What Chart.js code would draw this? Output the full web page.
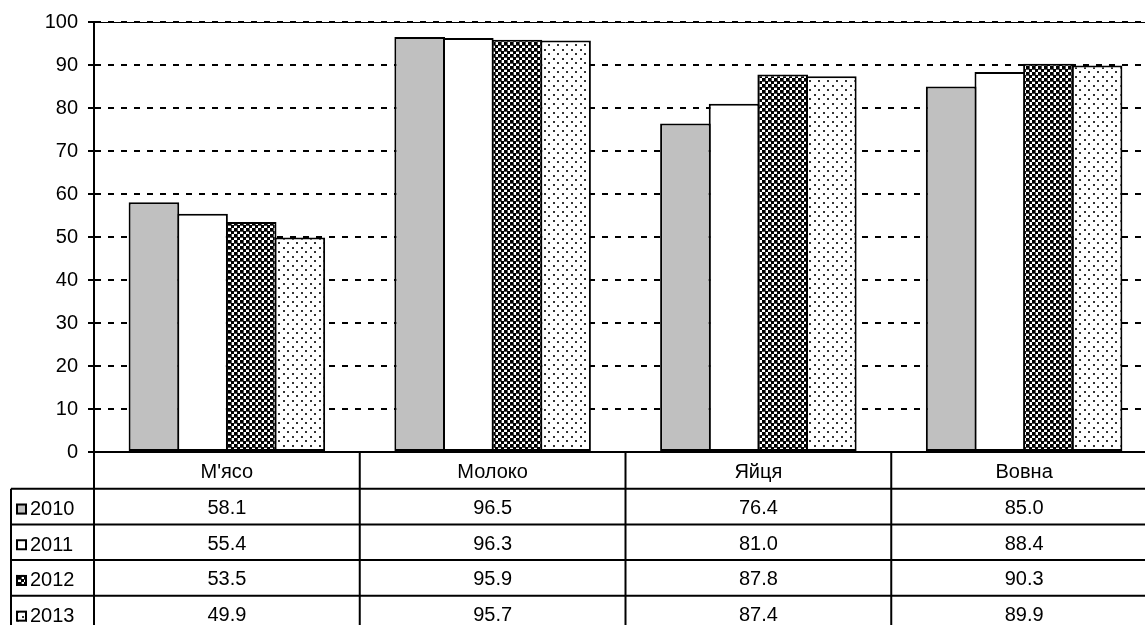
<!DOCTYPE html>
<html>
<head>
<meta charset="utf-8">
<script src="https://cdn.jsdelivr.net/npm/chart.js@4"></script>
<style>
  html, body { margin: 0; padding: 0; overflow: hidden; background: #fff; }
</style>
</head>
<body>
<canvas id="chart" width="1157" height="625"></canvas>
<script>
// дані з діаграми
const categories = ["М'ясо", 'Молоко', 'Яйця', 'Вовна'];
const years = ['2010', '2011', '2012', '2013'];
const values2010 = [58.1, 96.5, 76.4, 85.0];
const values2011 = [55.4, 96.3, 81.0, 88.4];
const values2012 = [53.5, 95.9, 87.8, 90.3];
const values2013 = [49.9, 95.7, 87.4, 89.9];
const seriesValues = [values2010, values2011, values2012, values2013];
const yMin = 0, yMax = 100, yStep = 10;

const FONT = '"Liberation Sans", Arial, sans-serif';
const FONT_SIZE = 20;

// штрихування як в Excel
function makePattern(kind) {
  const c = document.createElement('canvas');
  const p = c.getContext('2d');
  if (kind === 'checker') {
    c.width = 6; c.height = 6;
    p.fillStyle = '#fff';
    p.fillRect(0, 0, 6, 6);
    p.fillStyle = '#000';
    p.fillRect(0, 0, 3, 3);
    p.fillRect(3, 3, 3, 3);
    p.fillStyle = '#555';
    p.fillRect(3, 0, 1, 3);
    p.fillRect(0, 3, 3, 1);
  } else {
    c.width = 9; c.height = 9;
    p.fillStyle = '#fff';
    p.fillRect(0, 0, 9, 9);
    p.fillStyle = '#333';
    p.fillRect(4, 4, 2, 2);
    p.fillRect(0, 0, 1, 1);
    p.fillRect(8, 0, 1, 1);
    p.fillRect(0, 8, 1, 1);
    p.fillRect(8, 8, 1, 1);
  }
  return p.createPattern(c, 'repeat');
}

const fills = ['#c0c0c0', '#ffffff', makePattern('checker'), makePattern('dots')];

// таблиця даних під віссю
const dataTable = {
  id: 'dataTable',
  afterDraw(chart) {
    const { ctx, chartArea: a, scales: { x } } = chart;
    const n = categories.length;
    const step = x.width / n;
    const headerBottom = a.bottom + 36.7;
    const rowH = 35.7;
    const legendLeft = 11;
    const H = chart.height;

    ctx.save();
    ctx.strokeStyle = '#000';
    ctx.lineWidth = 1;
    ctx.beginPath();
    // верхня рамка
    ctx.moveTo(a.left, a.top + 0.5);
    ctx.lineTo(a.right, a.top + 0.5);
    ctx.stroke();

    ctx.lineWidth = 2;
    ctx.beginPath();
    for (let r = 0; r <= years.length; r++) {
      const y = headerBottom + r * rowH;
      ctx.moveTo(legendLeft, y);
      ctx.lineTo(x.right, y);
    }
    for (let i = 0; i <= n; i++) {
      const xx = x.left + i * step;
      ctx.moveTo(xx, a.bottom);
      ctx.lineTo(xx, H);
    }
    ctx.moveTo(legendLeft, headerBottom);
    ctx.lineTo(legendLeft, H);
    ctx.stroke();

    ctx.font = FONT_SIZE + 'px ' + FONT;
    ctx.fillStyle = '#000';
    ctx.textBaseline = 'middle';
    for (let r = 0; r < years.length; r++) {
      const cy = headerBottom + (r + 0.5) * rowH + 2;
      ctx.textAlign = 'center';
      for (let i = 0; i < n; i++) {
        ctx.fillText(seriesValues[r][i].toFixed(1), x.left + (i + 0.5) * step, cy);
      }
      // ключ легенди
      ctx.fillStyle = fills[r];
      ctx.fillRect(16, cy - 5, 11, 11);
      ctx.lineWidth = 2;
      ctx.strokeRect(17, cy - 4, 9, 9);
      ctx.fillStyle = '#000';
      ctx.textAlign = 'left';
      ctx.fillText(years[r], 30, cy + 1);
    }
    ctx.restore();
  }
};

const ctx = document.getElementById('chart').getContext('2d');

new Chart(ctx, {
  type: 'bar',
  data: {
    labels: categories,
    datasets: years.map((yr, i) => ({
      label: yr,
      data: seriesValues[i],
      backgroundColor: fills[i],
      borderColor: '#000',
      borderWidth: 2,
      borderSkipped: false,
      categoryPercentage: 0.732,
      barPercentage: 1.041
    }))
  },
  options: {
    responsive: false,
    animation: false,
    layout: { padding: { top: 22, right: 0, bottom: 0, left: 0 } },
    plugins: {
      legend: { display: false },
      tooltip: { enabled: false }
    },
    scales: {
      x: {
        offset: true,
        afterFit: s => { s.height = 173; },
        grid: { display: false },
        border: { color: '#000', width: 2 },
        ticks: { color: '#000', padding: 0, font: { family: FONT, size: FONT_SIZE } }
      },
      y: {
        min: yMin,
        max: yMax,
        afterFit: s => { s.width = 94; },
        grid: {
          color: '#000',
          lineWidth: 2,
          tickLength: 6,
          tickColor: '#000',
          tickBorderDash: []
        },
        border: { color: '#000', width: 2, dash: [6, 7] },
        ticks: {
          stepSize: yStep,
          color: '#000',
          padding: 10,
          font: { family: FONT, size: FONT_SIZE }
        }
      }
    }
  },
  plugins: [dataTable]
});
</script>
</body>
</html>
